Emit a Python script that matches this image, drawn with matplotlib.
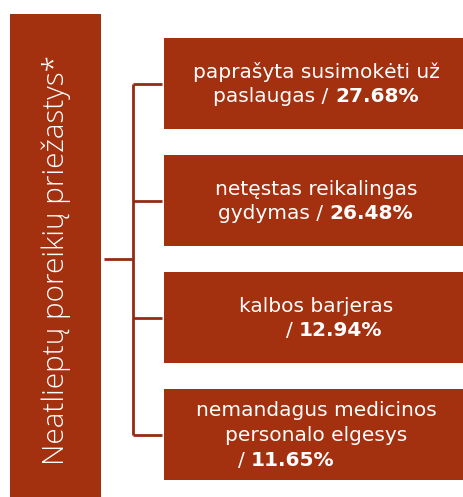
import matplotlib
matplotlib.use("Agg")
import matplotlib.pyplot as plt
from matplotlib.patches import Rectangle

# duomenys
title = "Neatlieptų poreikių priežastys*"
reasons = [
    ["paprašyta susimokėti už", "paslaugas / "],
    ["netęstas reikalingas", "gydymas / "],
    ["kalbos barjeras", "/ "],
    ["nemandagus medicinos", "personalo elgesys", "/ "],
]
shares = [27.68, 26.48, 12.94, 11.65]

red = "#A3300F"
line_col = "#932C14"
font = "DejaVu Sans"
fs = 14.5
fs_bold = 14.5

fig = plt.figure(figsize=(4.64, 4.97), dpi=100)
ax = fig.add_axes([0, 0, 1, 1])
ax.set_xlim(0, 464)
ax.set_ylim(497, 0)
ax.axis("off")

# kairysis blokas
ax.add_patch(Rectangle((10, 14), 91, 483, color=red, lw=0))
ax.text(56, 260, title, rotation=90, ha="center", va="center",
        color="white", fontsize=21.3, family="Open Sans", fontweight="light")

renderer = fig.canvas.get_renderer()

box_top = [38, 155, 272, 389]
box_h = 91
x0, x1 = 164, 464
cx = (x0 + x1) / 2 + 2
line_gap = 24.5
last_shift = [0, 0, 18, -30]

centers = []
for i, (lines, val) in enumerate(zip(reasons, shares)):
    top = box_top[i]
    ax.add_patch(Rectangle((x0, top), x1 - x0, box_h, color=red, lw=0))
    yc = top + box_h / 2
    centers.append(yc)
    n = len(lines)
    for j, ln in enumerate(lines):
        y = yc + (j - (n - 1) / 2) * line_gap + 6.5
        if j < n - 1:
            ax.text(cx, y, ln, ha="center", va="baseline", color="white",
                    fontsize=fs, family=font)
        else:
            bold = f"{val:.2f}%"
            t1 = ax.text(0, y, ln, ha="left", va="baseline", color="white",
                         fontsize=fs, family=font)
            t2 = ax.text(0, y, bold, ha="left", va="baseline", color="white",
                         fontsize=fs_bold, family=font, fontweight="bold")
            w1 = t1.get_window_extent(renderer).width
            w2 = t2.get_window_extent(renderer).width
            start = cx + last_shift[i] - (w1 + w2) / 2
            t1.set_x(start)
            t2.set_x(start + w1)

# jungiamosios linijos
vx = 133
ax.plot([vx, vx], [centers[0], centers[-1]], color=line_col, lw=2, solid_capstyle="butt")
for yc in centers:
    ax.plot([vx, x0 - 2], [yc, yc], color=line_col, lw=2, solid_capstyle="butt")
ax.plot([104, vx], [259, 259], color=line_col, lw=2, solid_capstyle="butt")

fig.savefig("out.png", dpi=100)
